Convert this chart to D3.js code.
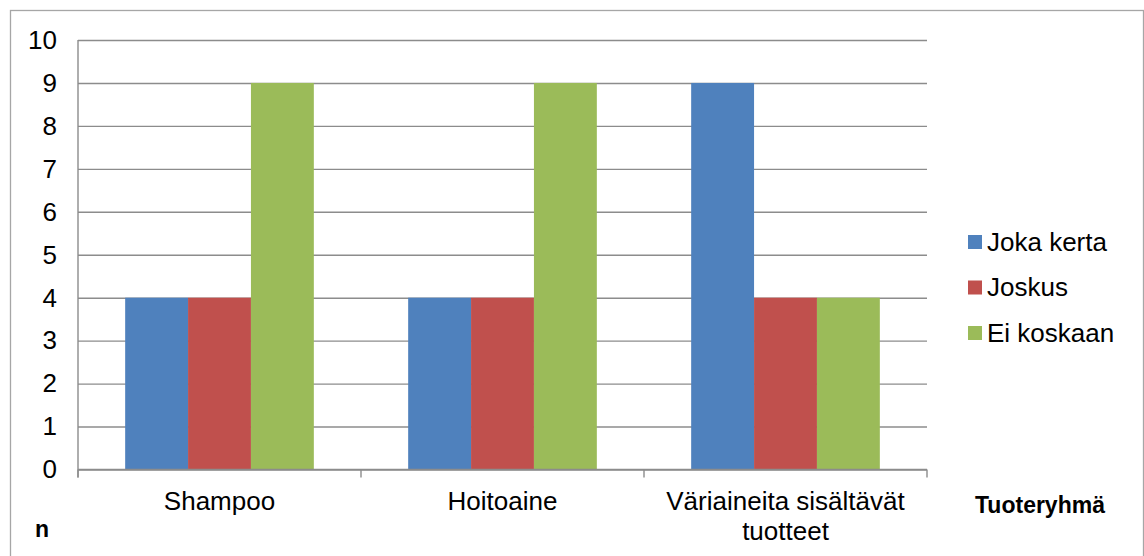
<!DOCTYPE html>
<html>
<head>
<meta charset="utf-8">
<script src="https://cdn.jsdelivr.net/npm/d3@7"></script>
<style>
  body { margin: 0; background: #fff; }
  svg { display: block; font-family: "Liberation Sans", Arial, sans-serif; }
</style>
</head>
<body>
<svg width="1144" height="556"></svg>
<script>
const categories = ["Shampoo", "Hoitoaine", "Väriaineita sisältävät tuotteet"];
const seriesNames = ["Joka kerta", "Joskus", "Ei koskaan"];
const jokaKerta = [4, 4, 9];
const joskus = [4, 4, 4];
const eiKoskaan = [9, 9, 4];
const yTicks = [0, 1, 2, 3, 4, 5, 6, 7, 8, 9, 10];

const seriesValues = [jokaKerta, joskus, eiKoskaan];
const colors = ["#4F81BD", "#C0504D", "#9BBB59"];
const gridColor = "#8c8c8c";

const svg = d3.select("svg"),
      plot = {left: 78, right: 927, top: 40, bottom: 469.5};

// outer chart border
svg.append("rect")
  .attr("x", 10.5).attr("y", 10.5)
  .attr("width", 1133).attr("height", 560)
  .attr("fill", "none")
  .attr("stroke", "#a6a6a6")
  .attr("stroke-width", 1.3);

const x0 = d3.scaleBand().domain(categories).range([plot.left, plot.right]).padding(0);
const x1 = d3.scaleBand().domain(seriesNames).range([0, x0.bandwidth()])
  .paddingInner(0).paddingOuter(0.75);
const y = d3.scaleLinear().domain([0, 10]).range([plot.bottom, plot.top]);

// gridlines + y ticks
const yAxis = svg.append("g")
  .attr("transform", `translate(${plot.left},0)`)
  .call(d3.axisLeft(y).tickValues(yTicks).tickSize(8).tickPadding(13).tickFormat(d3.format("d")));
yAxis.select(".domain").remove();
yAxis.selectAll(".tick line").attr("stroke", gridColor).attr("stroke-width", 1.4)
  .attr("x2", plot.right - plot.left);
yAxis.selectAll(".tick text")
  .attr("fill", "#000")
  .style("font-size", "26px")
  .style("font-family", "'Liberation Sans', Arial, sans-serif");

// bars
const rows = categories.map((c, i) => ({cat: c, vals: seriesNames.map((s, j) => ({s, v: seriesValues[j][i], j}))}));
svg.append("g").selectAll("g")
  .data(rows)
  .join("g")
  .attr("transform", d => `translate(${x0(d.cat)},0)`)
  .selectAll("rect")
  .data(d => d.vals)
  .join("rect")
  .attr("x", d => x1(d.s))
  .attr("y", d => y(d.v))
  .attr("width", x1.bandwidth())
  .attr("height", d => y(0) - y(d.v))
  .attr("fill", d => colors[d.j]);

// y axis line (extends down to tick length)
svg.append("line")
  .attr("x1", plot.left).attr("x2", plot.left)
  .attr("y1", plot.top).attr("y2", plot.bottom + 8)
  .attr("stroke", gridColor).attr("stroke-width", 1.4);

// x axis
const xAxis = svg.append("g")
  .attr("transform", `translate(0,${plot.bottom})`);
xAxis.append("line")
  .attr("x1", plot.left).attr("x2", plot.right)
  .attr("stroke", gridColor).attr("stroke-width", 1.4);
xAxis.selectAll(".cat-tick")
  .data(categories.concat([null]))
  .join("line")
  .attr("class", "cat-tick")
  .attr("x1", (d, i) => plot.left + i * x0.step())
  .attr("x2", (d, i) => plot.left + i * x0.step())
  .attr("y1", 0).attr("y2", 8)
  .attr("stroke", gridColor).attr("stroke-width", 1.4);

const catLabels = xAxis.selectAll(".cat-label")
  .data(categories)
  .join("text")
  .attr("class", "cat-label")
  .attr("x", d => x0(d) + x0.bandwidth() / 2)
  .attr("y", 40.5)
  .attr("text-anchor", "middle")
  .style("font-size", "26px")
  .attr("fill", "#000")
  .text(d => d);

catLabels.each(function (d) {
  const text = d3.select(this);
  const words = d.split(" ");
  const maxW = x0.bandwidth() - 20;
  let line = [], lineNo = 0;
  text.text(null);
  let tspan = text.append("tspan").attr("x", text.attr("x")).attr("dy", 0);
  for (const w of words) {
    line.push(w);
    tspan.text(line.join(" "));
    if (tspan.node().getComputedTextLength() > maxW && line.length > 1) {
      line.pop();
      tspan.text(line.join(" "));
      line = [w];
      lineNo++;
      tspan = text.append("tspan").attr("x", text.attr("x")).attr("dy", "1.15em").text(w);
    }
  }
});

// axis titles
svg.append("text")
  .attr("x", 1040).attr("y", 513)
  .attr("text-anchor", "middle")
  .style("font-size", "23px")
  .style("font-weight", "bold")
  .text("Tuoteryhmä");

svg.append("text")
  .attr("x", 35).attr("y", 537)
  .style("font-size", "23px")
  .style("font-weight", "bold")
  .text("n");

// legend
const legend = svg.append("g").attr("transform", "translate(968,242)");
const item = legend.selectAll("g")
  .data(seriesNames)
  .join("g")
  .attr("transform", (d, i) => `translate(0,${i * 45.5})`);
item.append("rect")
  .attr("x", 0).attr("y", -7)
  .attr("width", 14).attr("height", 14)
  .attr("fill", (d, i) => colors[i]);
item.append("text")
  .attr("x", 19).attr("dy", "0.33em")
  .style("font-size", "26px")
  .text(d => d);
</script>
</body>
</html>
